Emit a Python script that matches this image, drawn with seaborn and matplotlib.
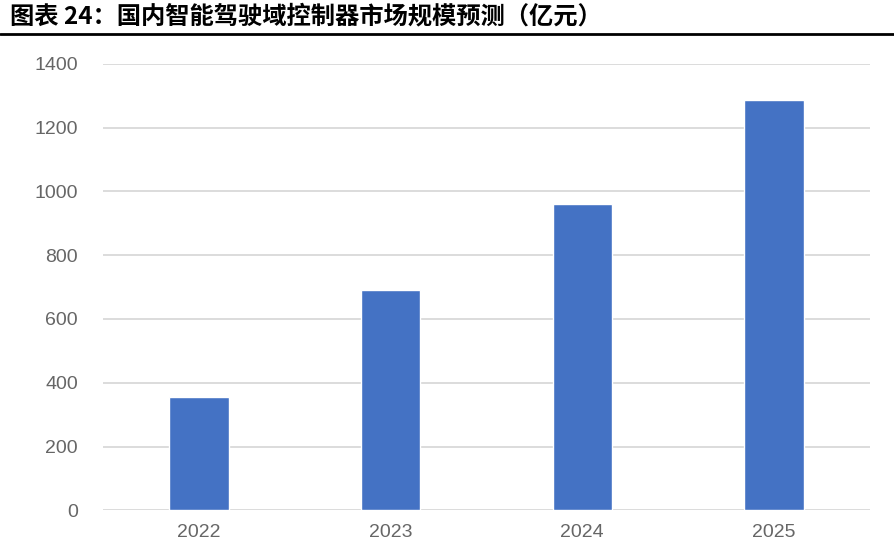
import matplotlib
matplotlib.use("Agg")
import matplotlib.pyplot as plt
from matplotlib.lines import Line2D
import seaborn as sns
import pandas as pd

# Market size forecast, 100 million yuan
years = ["2022", "2023", "2024", "2025"]
market_size = [355, 690, 961, 1286]
y_ticks = [0, 200, 400, 600, 800, 1000, 1200, 1400]
title = "图表 24：国内智能驾驶域控制器市场规模预测（亿元）"

sns.set_theme(style="white")
plt.rcParams["font.family"] = ["Liberation Sans", "Noto Sans CJK SC", "DejaVu Sans"]

df = pd.DataFrame({"year": years, "value": market_size})

fig = plt.figure(figsize=(8.94, 5.44), dpi=100)
ax = fig.add_axes([0.1152, 0.0619, 0.8578, 0.8210])

sns.barplot(data=df, x="year", y="value", color="#4472C4", width=0.31,
            saturation=1, ax=ax, zorder=3)

ax.set_ylim(0, 1400)
ax.set_yticks(y_ticks)
ax.set_xlim(-0.5, len(years) - 0.5)
ax.set_xlabel("")
ax.set_ylabel("")
ax.grid(axis="y", color="#D9D9D9", linewidth=1.3, zorder=0)
ax.grid(axis="x", visible=False)
for s in ax.spines.values():
    s.set_visible(False)
ax.tick_params(axis="both", length=0, labelsize=14, labelcolor="#666666")
ax.tick_params(axis="y", pad=18)
ax.tick_params(axis="x", pad=10)

fig.text(0.011, 1 - 16 / 544, title, ha="left", va="center", fontsize=17.5,
         fontweight="bold", color="black",
         family=["Noto Sans CJK SC", "DejaVu Sans"])
fig.add_artist(Line2D([0, 1], [1 - 34 / 544, 1 - 34 / 544], color="black",
                      linewidth=2, transform=fig.transFigure))

fig.savefig("out.png", dpi=100)
